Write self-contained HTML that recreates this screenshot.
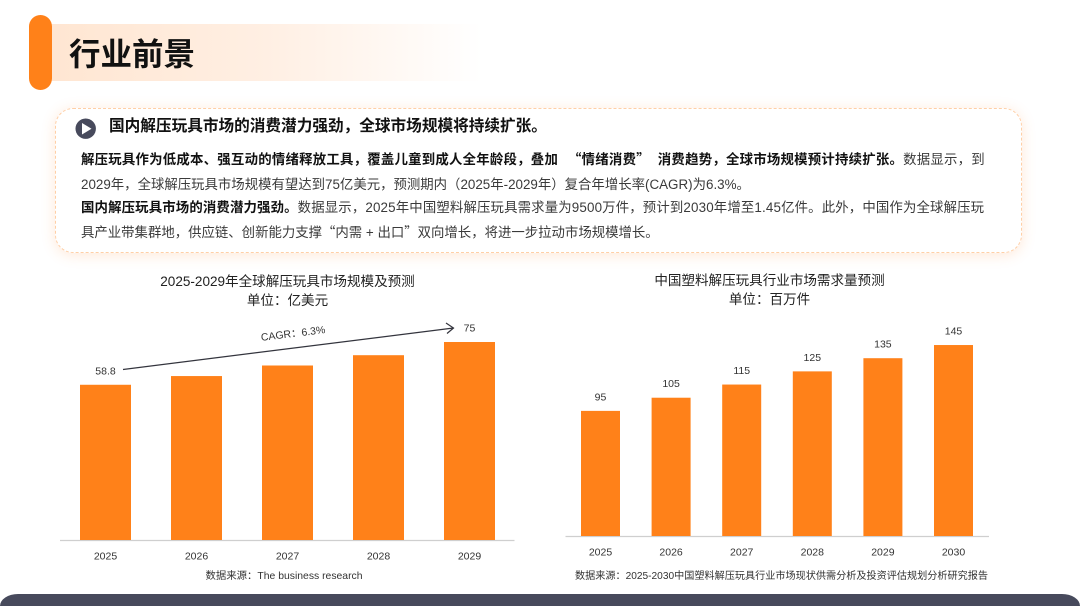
<!DOCTYPE html>
<html lang="zh-CN">
<head>
<meta charset="utf-8">
<title>行业前景</title>
<style>
html,body{margin:0;padding:0;background:#fff;width:1080px;height:606px;overflow:hidden;}
body{position:relative;font-family:"Liberation Sans","Noto Sans CJK SC",sans-serif;color:#333;}
.abs{position:absolute;white-space:nowrap;}
.line{position:absolute;left:81px;height:24px;line-height:24px;font-size:13.4px;color:#3a3a3a;white-space:nowrap;}
.line b{color:#111;font-weight:700;}
.q{font-family:"Noto Sans CJK SC",sans-serif;}
svg{position:absolute;left:0;top:0;}
svg text{font-family:"Liberation Sans","Noto Sans CJK SC",sans-serif;}
</style>
</head>
<body>
<div class="abs" style="left:52px;top:24px;width:430px;height:57px;background:linear-gradient(90deg,#ffe6d2 0%,#ffefe3 50%,#fff 100%);"></div>
<div class="abs" style="left:29px;top:15px;width:23px;height:75px;border-radius:12px;background:#ff8119;"></div>
<div class="abs" style="left:69px;top:32px;font-size:31.5px;line-height:45px;font-weight:700;color:#111;">行业前景</div>

<div class="abs" style="left:55px;top:108px;width:965px;height:143px;border:1px dashed #ffcfa6;border-radius:18px;background:#fff;box-shadow:0 2px 14px rgba(255,140,60,.2);"></div>
<svg width="1080" height="606" style="pointer-events:none">
  <circle cx="85.7" cy="128.7" r="10.2" fill="#474a5c"/>
  <polygon points="82,123 82,134.5 91.5,128.7" fill="#fff"/>
</svg>
<div class="abs" style="left:109px;top:115px;font-size:15.65px;line-height:24px;font-weight:700;color:#111;">国内解压玩具市场的消费潜力强劲&#65292;全球市场规模将持续扩张。</div>
<div class="line" style="top:146px;letter-spacing:.24px;"><b>解压玩具作为低成本、强互动的情绪释放工具&#65292;覆盖儿童到成人全年龄段&#65292;叠加 <span class="q" style="margin-left:6px">“</span>情绪消费<span class="q" style="margin-right:4px">”</span> 消费趋势&#65292;全球市场规模预计持续扩张。</b>数据显示&#65292;到</div>
<div class="line" style="top:173px;">2029年&#65292;全球解压玩具市场规模有望达到75亿美元&#65292;预测期内&#65288;2025年-2029年&#65289;复合年增长率(CAGR)为6.3%。</div>
<div class="line" style="top:196px;letter-spacing:.15px;"><b>国内解压玩具市场的消费潜力强劲。</b>数据显示&#65292;2025年中国塑料解压玩具需求量为9500万件&#65292;预计到2030年增至1.45亿件。此外&#65292;中国作为全球解压玩</div>
<div class="line" style="top:219px;">具产业带集群地&#65292;供应链、创新能力支撑<span class="q">“</span>内需 + 出口<span class="q">”</span>双向增长&#65292;将进一步拉动市场规模增长。</div>

<svg id="charts" width="1080" height="606"></svg>

<div class="abs" style="left:0;top:594px;width:1080px;height:12px;background:#474a5c;border-radius:18px 18px 0 0 / 12px 12px 0 0;"></div>

<script>
var globalYears = ['2025', '2026', '2027', '2028', '2029'];
var globalValues = [58.8, 62.1, 66.1, 70, 75];
var globalPrinted = ['58.8', '', '', '', '75'];
var chinaYears = ['2025', '2026', '2027', '2028', '2029', '2030'];
var chinaValues = [95, 105, 115, 125, 135, 145];
var chinaPrinted = ['95', '105', '115', '125', '135', '145'];

var svg = document.getElementById('charts');
var NS = 'http://www.w3.org/2000/svg';
function mk(tag, attrs, txt) {
  var el = document.createElementNS(NS, tag);
  for (var k in attrs) el.setAttribute(k, attrs[k]);
  if (txt !== undefined) el.textContent = txt;
  svg.appendChild(el);
  return el;
}
function label(x, y, size, txt, name, fill) {
  var el = mk('text', {x: x, y: y, 'font-size': size, 'text-anchor': 'middle', fill: fill || '#333'}, txt);
  
  
  return el;
}
function drawBars(cfg, cats, vals, printed, prefix) {
  var xOf = function (i) { return cfg.first + i * cfg.step; };
  var yOf = function (v) { return cfg.base - v * cfg.scale; };
  var axis = mk('line', {x1: cfg.ax0, x2: cfg.ax1, y1: cfg.base + 0.5, y2: cfg.base + 0.5, stroke: '#cfcfcf', 'stroke-width': 1.2});
  
  
  for (var i = 0; i < cats.length; i++) {
    var bar = mk('rect', {x: xOf(i), y: yOf(vals[i]), width: cfg.barW, height: cfg.base - yOf(vals[i]), fill: '#ff8119'});
    
    
    label(xOf(i) + cfg.barW / 2, cfg.base + 19.5, 10.5, cats[i], prefix + '-tick-' + cats[i]);
    if (printed[i]) {
      label(xOf(i) + cfg.barW / 2, yOf(vals[i]) - 10.5, 10.5, printed[i], prefix + '-value-' + cats[i]);
    }
  }
  return {xOf: xOf, yOf: yOf};
}

var cfg1 = {first: 80, step: 91, barW: 51, base: 540, scale: 2.64, ax0: 60, ax1: 514.5};
var cfg2 = {first: 581, step: 70.6, barW: 39, base: 536, scale: 1.317, ax0: 565.5, ax1: 989};
var a1 = drawBars(cfg1, globalYears, globalValues, globalPrinted, 'global');
drawBars(cfg2, chinaYears, chinaValues, chinaPrinted, 'china');

label(287.5, 286, 13.55, '2025-2029年全球解压玩具市场规模及预测', 'global-chart-title', '#222');
label(287.5, 305, 13.55, '单位\uFF1A亿美元', 'global-chart-unit', '#222');
label(769.5, 285, 13.55, '中国塑料解压玩具行业市场需求量预测', 'china-chart-title', '#222');
label(769.5, 304, 13.55, '单位\uFF1A百万件', 'china-chart-unit', '#222');
label(284, 579, 10.4, '数据来源\uFF1AThe business research', 'global-source-note', '#333');
label(781.5, 579, 10.15, '数据来源\uFF1A2025-2030中国塑料解压玩具行业市场现状供需分析及投资评估规划分析研究报告', 'china-source-note', '#333');

var ax = a1.xOf(0) + 43, ay = a1.yOf(globalValues[0]) - 15.3;
var bx = a1.xOf(4) + 9.5, by = a1.yOf(globalValues[4]) - 14;
var cagrLine = mk('line', {x1: ax, y1: ay, x2: bx, y2: by, stroke: '#33343d', 'stroke-width': 1.2});


var head = mk('polyline', {points: (bx - 7.5) + ',' + (by - 5) + ' ' + bx + ',' + by + ' ' + (bx - 6.5) + ',' + (by + 5.5), fill: 'none', stroke: '#33343d', 'stroke-width': 1.2});


var cagr = label(293, 337, 10.5, 'CAGR\uFF1A6.3%', 'cagr-label');
cagr.setAttribute('transform', 'rotate(-7 293 333)');
</script>
</body>
</html>
